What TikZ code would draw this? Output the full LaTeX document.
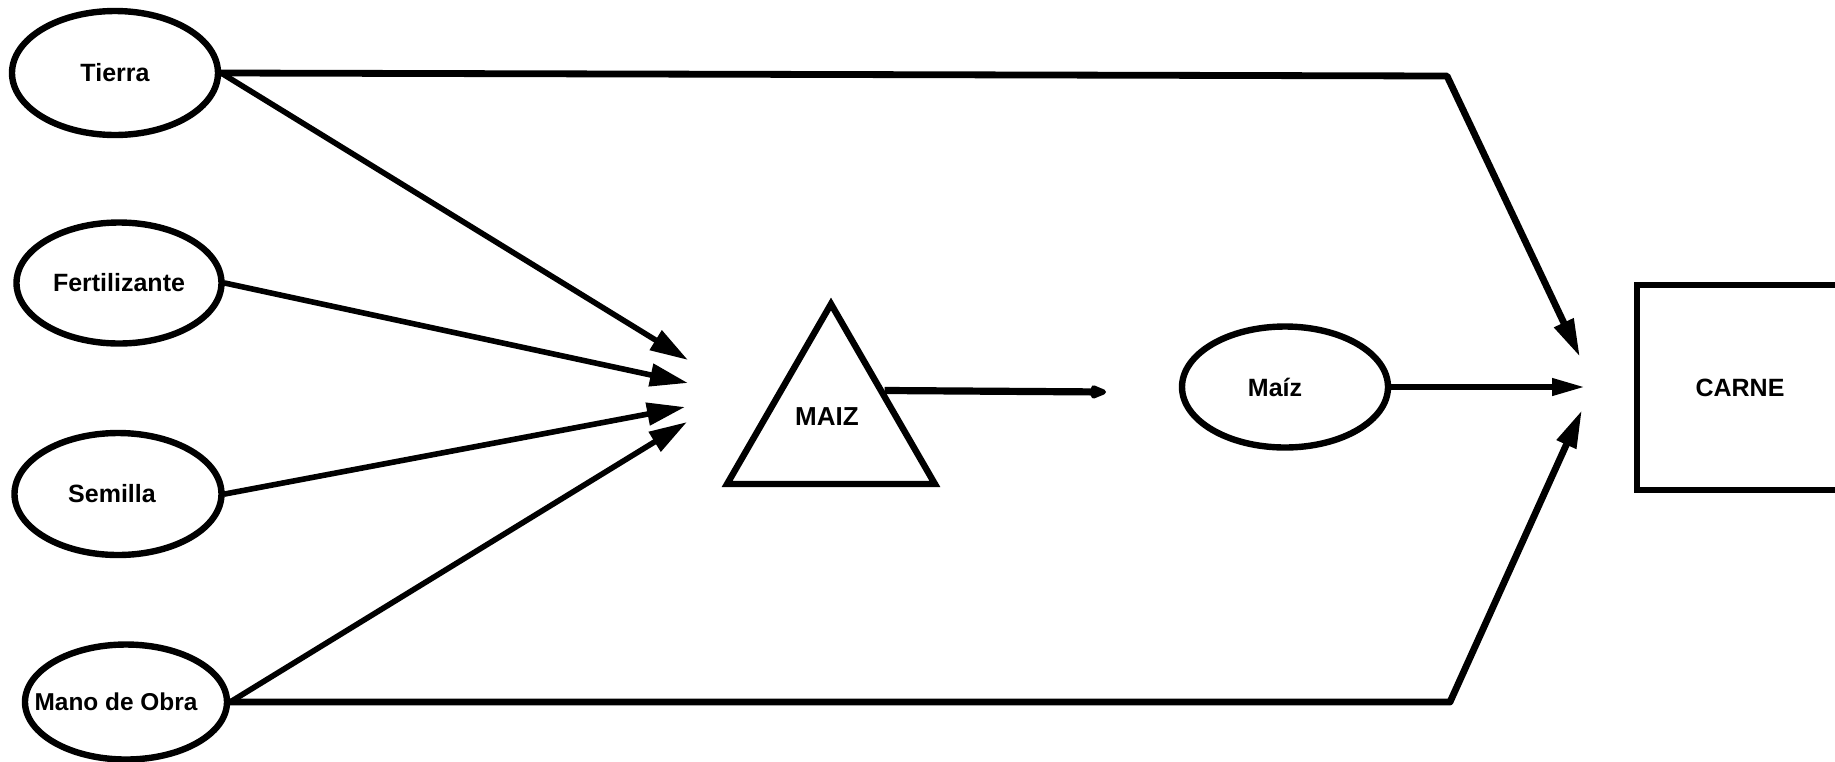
\documentclass[tikz,border=0pt]{standalone}
\usepackage{fontspec}
\setmainfont{Liberation Sans}
\usetikzlibrary{shapes.geometric,arrows.meta}
\begin{document}
\begin{tikzpicture}[x=0.5pt,y=-0.5pt,
  font=\fontsize{12.5}{14}\selectfont\bfseries,
  oval/.style={ellipse, draw, line width=3.2pt, inner sep=0pt},
  inarrow/.style={line width=2.8pt, line cap=round, -{Triangle[length=19pt,width=11pt]}},
  outarrow/.style={line width=3.4pt, line join=round, -{Triangle[length=19pt,width=10pt]}},
  midarrow/.style={line width=3.4pt, -{Triangle[length=17pt,width=8pt]}},
  smallarrow/.style={line width=3.6pt, -{Triangle[round,length=10pt,width=7pt]}}]
\useasboundingbox (0,0) rectangle (1835,761);
\fill[white] (0,0) rectangle (1835,761);
\clip (0,0) rectangle (1835,761);
% nodes
\node[oval, minimum width=103pt, minimum height=62pt] (tierra) at (115,73) {\makebox[0pt]{Tierra}};
\node[oval, minimum width=102.5pt, minimum height=60.5pt] (fert) at (119,283) {\makebox[0pt]{Fertilizante}};
\node[oval, minimum width=103.5pt, minimum height=61pt] (sem) at (118,494) {\makebox[0pt]{Semilla\hspace{6pt}}};
\node[oval, minimum width=101pt, minimum height=57.5pt] (mano) at (126,702) {\makebox[0pt]{\fontsize{12.2}{14}\selectfont Mano de Obra\hspace{10pt}}};
\node[oval, minimum width=103pt, minimum height=60.5pt] (maiz) at (1285,387) {\makebox[0pt]{Maíz\hspace{10pt}}};
\node[regular polygon, regular polygon sides=3, draw, line width=3.2pt, minimum size=120pt, inner sep=0pt] (tri) at (831,424) {};
\node (trilabel) at (827,417) {\fontsize{13}{15}\selectfont MAIZ};
\node[draw, line width=3.2pt, minimum width=103pt, minimum height=102.5pt, inner sep=0pt] (carne) at (1740,387.5) {CARNE};
% free ends
\coordinate (t1) at (688,360);
\coordinate (t2) at (688,383);
\coordinate (t3) at (685,407);
\coordinate (t4) at (687,422);
\coordinate (mtip) at (1106,392);
\coordinate (ctop) at (1447,76);
\coordinate (ctoptip) at (1580,357);
\coordinate (cmid) at (1586,387);
\coordinate (cbot) at (1450,702);
\coordinate (cbottip) at (1582,410);
% connectors
\draw[inarrow] (tierra.east) -- (t1);
\draw[inarrow] (fert.east) -- (t2);
\draw[inarrow] (sem.east) -- (t3);
\draw[inarrow] (mano.east) -- (t4);
\draw[smallarrow] (tri.32) -- (mtip);
\draw[midarrow] (maiz.east) -- (cmid);
\draw[outarrow] (tierra.east) -- (ctop) -- (ctoptip);
\draw[outarrow] (mano.east) -- (cbot) -- (cbottip);
\end{tikzpicture}
\end{document}
